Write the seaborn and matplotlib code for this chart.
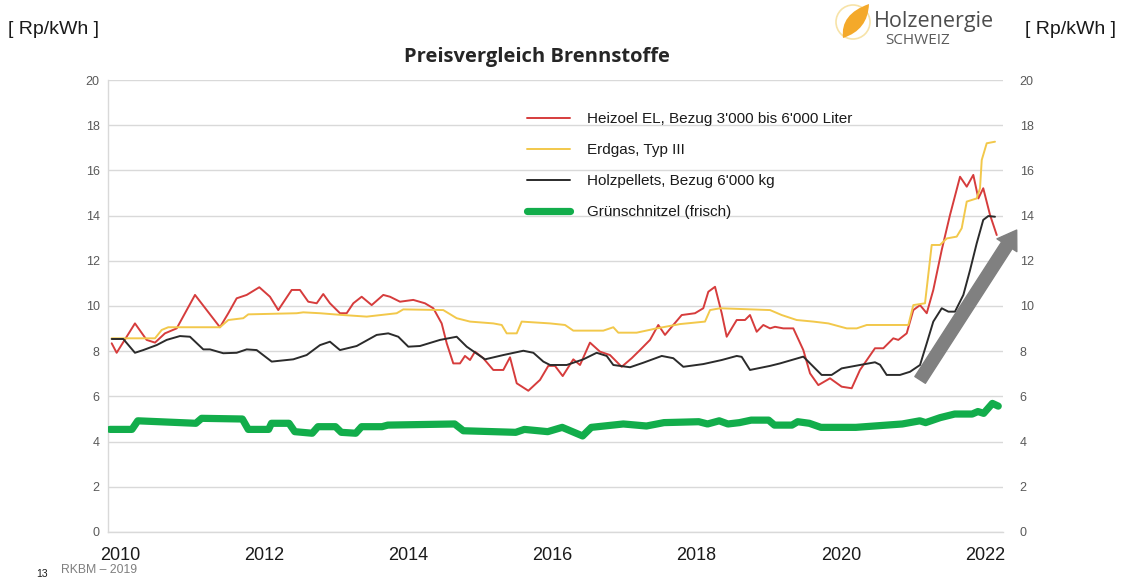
import matplotlib
matplotlib.use("Agg")
import matplotlib.pyplot as plt
import seaborn as sns
import pandas as pd
import numpy as np
from matplotlib.patches import PathPatch, Ellipse
from matplotlib.path import Path

# ---------------- data (decimal years, Rp/kWh) ----------------
heizoel_x = [2009.885, 2009.954, 2010.208, 2010.370, 2010.486, 2010.624, 2010.787, 2010.902,
             2011.041, 2011.203, 2011.387, 2011.503, 2011.619, 2011.758, 2011.933, 2012.081,
             2012.196, 2012.382, 2012.497, 2012.612, 2012.729, 2012.820, 2012.913, 2013.052,
             2013.145, 2013.237, 2013.353, 2013.492, 2013.653, 2013.746, 2013.885, 2014.069,
             2014.231, 2014.347, 2014.463, 2014.533, 2014.624, 2014.717, 2014.786, 2014.856,
             2014.925, 2015.040, 2015.179, 2015.318, 2015.411, 2015.504, 2015.665, 2015.827,
             2015.942, 2016.035, 2016.142, 2016.289, 2016.382, 2016.520, 2016.659, 2016.798,
             2016.960, 2017.099, 2017.214, 2017.353, 2017.468, 2017.561, 2017.676, 2017.793,
             2017.977, 2018.092, 2018.162, 2018.255, 2018.348, 2018.417, 2018.486, 2018.556,
             2018.671, 2018.740, 2018.833, 2018.925, 2019.018, 2019.087, 2019.202, 2019.341,
             2019.480, 2019.573, 2019.688, 2019.850, 2020.012, 2020.151, 2020.266, 2020.474,
             2020.590, 2020.728, 2020.798, 2020.914, 2021.006, 2021.099, 2021.192, 2021.283,
             2021.400, 2021.515, 2021.654, 2021.747, 2021.838, 2021.908, 2021.976, 2022.070,
             2022.163]
heizoel_y = [8.35, 7.93, 9.23, 8.50, 8.38, 8.79, 9.01, 9.68,
             10.49, 9.82, 9.06, 9.68, 10.34, 10.49, 10.83, 10.41,
             9.82, 10.71, 10.71, 10.19, 10.12, 10.53, 10.12, 9.68,
             9.68, 10.12, 10.41, 10.04, 10.49, 10.41, 10.19, 10.27,
             10.12, 9.90, 9.23, 8.35, 7.46, 7.46, 7.79, 7.61,
             7.98, 7.69, 7.17, 7.17, 7.73, 6.58, 6.25, 6.73,
             7.35, 7.35, 6.90, 7.64, 7.39, 8.38, 7.98, 7.83,
             7.31, 7.69, 8.05, 8.50, 9.16, 8.72, 9.16, 9.60,
             9.68, 9.90, 10.63, 10.85, 9.68, 8.64, 9.01, 9.38,
             9.38, 9.60, 8.86, 9.16, 9.01, 9.08, 9.01, 9.01,
             8.05, 7.02, 6.50, 6.80, 6.43, 6.36, 7.17, 8.13,
             8.13, 8.57, 8.50, 8.79, 9.82, 10.04, 9.68, 10.71,
             12.48, 14.03, 15.72, 15.28, 15.80, 14.76, 15.21, 14.03,
             13.14]

erdgas_x = [2009.885, 2010.486, 2010.579, 2010.670, 2011.387, 2011.503, 2011.711, 2011.780,
            2012.452, 2012.543, 2012.775, 2013.052, 2013.423, 2013.839, 2013.930, 2014.485,
            2014.671, 2014.856, 2015.179, 2015.296, 2015.365, 2015.504, 2015.573, 2015.966,
            2016.174, 2016.289, 2016.705, 2016.844, 2016.913, 2017.168, 2017.446, 2017.769,
            2018.116, 2018.186, 2018.324, 2019.018, 2019.180, 2019.388, 2019.619, 2019.827,
            2020.082, 2020.221, 2020.360, 2020.937, 2021.006, 2021.168, 2021.261, 2021.376,
            2021.470, 2021.608, 2021.677, 2021.747, 2021.885, 2021.931, 2021.955, 2022.024,
            2022.139]
erdgas_y = [8.57, 8.57, 8.94, 9.06, 9.06, 9.38, 9.46, 9.63,
            9.68, 9.72, 9.68, 9.61, 9.53, 9.68, 9.85, 9.82,
            9.46, 9.31, 9.23, 9.16, 8.79, 8.79, 9.31, 9.23,
            9.16, 8.91, 8.91, 9.06, 8.82, 8.82, 9.01, 9.20,
            9.31, 9.82, 9.90, 9.82, 9.60, 9.38, 9.31, 9.23,
            9.01, 9.01, 9.16, 9.16, 10.04, 10.12, 12.70, 12.70,
            12.99, 13.07, 13.44, 14.62, 14.76, 15.21, 16.46, 17.20,
            17.27]

pellets_x = [2009.885, 2010.046, 2010.208, 2010.323, 2010.509, 2010.648, 2010.832, 2010.971,
             2011.156, 2011.249, 2011.433, 2011.619, 2011.758, 2011.896, 2012.105, 2012.404,
             2012.590, 2012.775, 2012.913, 2013.052, 2013.284, 2013.561, 2013.722, 2013.861,
             2014.000, 2014.162, 2014.440, 2014.671, 2014.810, 2015.064, 2015.318, 2015.596,
             2015.735, 2015.873, 2015.966, 2016.198, 2016.428, 2016.613, 2016.752, 2016.844,
             2017.076, 2017.260, 2017.516, 2017.676, 2017.815, 2018.092, 2018.348, 2018.556,
             2018.625, 2018.740, 2019.018, 2019.157, 2019.480, 2019.596, 2019.734, 2019.873,
             2020.012, 2020.266, 2020.474, 2020.544, 2020.636, 2020.821, 2020.960, 2021.099,
             2021.192, 2021.283, 2021.400, 2021.492, 2021.584, 2021.700, 2021.793, 2021.885,
             2021.976, 2022.046, 2022.139]
pellets_y = [8.54, 8.54, 7.93, 8.05, 8.27, 8.50, 8.67, 8.64,
             8.08, 8.08, 7.91, 7.93, 8.08, 8.05, 7.54, 7.64,
             7.83, 8.27, 8.42, 8.05, 8.23, 8.72, 8.79, 8.64,
             8.20, 8.23, 8.50, 8.64, 8.20, 7.64, 7.83, 8.02,
             7.93, 7.54, 7.39, 7.39, 7.64, 7.93, 7.79, 7.39,
             7.29, 7.49, 7.79, 7.69, 7.31, 7.43, 7.61, 7.79,
             7.75, 7.17, 7.35, 7.46, 7.76, 7.39, 6.95, 6.95,
             7.24, 7.39, 7.51, 7.40, 6.95, 6.95, 7.09, 7.39,
             8.35, 9.31, 9.90, 9.75, 9.75, 10.49, 11.59, 12.77,
             13.81, 13.98, 13.95]

gruen_x = [2009.861, 2010.166, 2010.247, 2011.053, 2011.133, 2011.698, 2011.780, 2012.062,
           2012.102, 2012.345, 2012.425, 2012.667, 2012.747, 2012.990, 2013.070, 2013.271,
           2013.352, 2013.635, 2013.715, 2014.643, 2014.764, 2015.490, 2015.610, 2015.934,
           2016.135, 2016.418, 2016.539, 2016.983, 2017.304, 2017.547, 2018.030, 2018.152,
           2018.313, 2018.434, 2018.595, 2018.757, 2018.998, 2019.079, 2019.322, 2019.402,
           2019.563, 2019.724, 2020.208, 2020.853, 2021.096, 2021.177, 2021.378, 2021.580,
           2021.822, 2021.902, 2021.982, 2022.103, 2022.184]
gruen_y = [4.54, 4.54, 4.92, 4.81, 5.03, 5.00, 4.54, 4.54,
           4.81, 4.81, 4.44, 4.37, 4.66, 4.66, 4.41, 4.37,
           4.66, 4.66, 4.73, 4.78, 4.48, 4.41, 4.54, 4.44,
           4.63, 4.25, 4.63, 4.78, 4.69, 4.84, 4.88, 4.78,
           4.92, 4.78, 4.84, 4.95, 4.95, 4.73, 4.73, 4.88,
           4.81, 4.63, 4.63, 4.78, 4.92, 4.84, 5.06, 5.22,
           5.22, 5.33, 5.25, 5.69, 5.57]

series_names = ["Heizoel EL, Bezug 3'000 bis 6'000 Liter", "Erdgas, Typ III",
                "Holzpellets, Bezug 6'000 kg", "Grünschnitzel (frisch)"]
year_ticks = [2010, 2012, 2014, 2016, 2018, 2020, 2022]
y_ticks = [0, 2, 4, 6, 8, 10, 12, 14, 16, 18, 20]

# ---------------- styling ----------------
sns.set_theme(style="white")
plt.rcParams['font.family'] = ['Liberation Sans', 'DejaVu Sans']

W, H = 1122, 580
fig = plt.figure(figsize=(W / 100, H / 100), dpi=100)
fig.patch.set_facecolor("white")

def fx(px):
    return px / W

def fy(py):
    return 1 - py / H

ax_l, ax_r, ax_t, ax_b = 108, 1003, 80, 532
ax = fig.add_axes([fx(ax_l), fy(ax_b), fx(ax_r) - fx(ax_l), fy(ax_t) - fy(ax_b)])

colors = ["#d63c3c", "#f2c84b", "#2b2b2b", "#12ad4b"]
widths = [1.4, 1.4, 1.4, 5.2]
xs = [heizoel_x, erdgas_x, pellets_x, gruen_x]
ys = [heizoel_y, erdgas_y, pellets_y, gruen_y]

for name, x, y, c, lw in zip(series_names, xs, ys, colors, widths):
    df = pd.DataFrame({"Jahr": x, "Preis": y})
    sns.lineplot(data=df, x="Jahr", y="Preis", ax=ax, color=c, linewidth=lw,
                 label=name, estimator=None, sort=False, zorder=3)

ax.set_xlim(2009.834, 2022.25)
ax.set_ylim(0, 20)
ax.set_yticks(y_ticks)
ax.set_xticks(year_ticks)
ax.set_xticklabels([str(t) for t in year_ticks], fontsize=13, color="#1a1a1a")
ax.set_yticklabels([str(t) for t in y_ticks], fontsize=9, color="#595959")
ax.set_xlabel("")
ax.set_ylabel("")
ax.grid(axis="y", color="#d9d9d9", linewidth=1.0, zorder=0)
ax.grid(axis="x", visible=False)
for s in ["top", "right"]:
    ax.spines[s].set_visible(False)
ax.spines["left"].set_color("#d9d9d9")
ax.spines["bottom"].set_color("#d9d9d9")
ax.spines["left"].set_linewidth(1.0)
ax.spines["bottom"].set_linewidth(1.0)
ax.tick_params(axis="y", length=0, pad=6)
ax.tick_params(axis="x", length=0, pad=11)
ax.set_xticks(np.arange(2010, 2022.3, 0.25), minor=True)
ax.tick_params(axis="x", which="minor", length=3, color="#d9d9d9", direction="out")

ax2 = ax.twinx()
ax2.set_ylim(0, 20)
ax2.set_yticks(y_ticks)
ax2.set_yticklabels([str(t) for t in y_ticks], fontsize=9, color="#595959")
ax2.tick_params(axis="y", length=0, pad=12)
for s in ax2.spines.values():
    s.set_visible(False)
ax2.grid(False)

leg = ax.legend(loc="upper left", bbox_to_anchor=((527 - ax_l) / (ax_r - ax_l), 1 - (112 - ax_t) / (ax_b - ax_t)),
                frameon=False, fontsize=11, handlelength=2.8, handletextpad=1.15,
                labelspacing=1.12, borderpad=0, borderaxespad=0)
for t in leg.get_texts():
    t.set_color("#1a1a1a")

# arrow
ax.annotate("", xy=(2022.44, 13.36), xytext=(2021.10, 6.73), xycoords="data",
            arrowprops=dict(arrowstyle="simple,head_width=1.7,head_length=1.3,tail_width=0.9",
                            color="#808080", mutation_scale=10, shrinkA=0, shrinkB=0),
            annotation_clip=False, zorder=5)

# texts
fig.text(fx(537), fy(57), "Preisvergleich Brennstoffe", ha="center", va="center",
         fontsize=14.5, fontweight="bold", family=["Open Sans", "DejaVu Sans"], color="#262626")
fig.text(fx(8), fy(29), "[ Rp/kWh ]", ha="left", va="center", fontsize=14, color="#1a1a1a")
fig.text(fx(1025), fy(29), "[ Rp/kWh ]", ha="left", va="center", fontsize=14, color="#1a1a1a")
fig.text(fx(36), fy(574), "13", ha="left", va="center", fontsize=7.5, color="#1a1a1a")
fig.text(fx(61), fy(570), "RKBM – 2019", ha="left", va="center", fontsize=8.8, color="#7f7f7f")

# logo
fig.text(fx(874), fy(22), "Holzenergie", ha="left", va="center", fontsize=15.5,
         family=["Open Sans", "DejaVu Sans"], color="#4d4d4d")
fig.text(fx(885), fy(41), "SCHWEIZ", ha="left", va="center", fontsize=11,
         family=["Open Sans", "DejaVu Sans"], color="#5a5a5a")
ring = Ellipse((fx(853), fy(22)), width=34 / W, height=34 / H, transform=fig.transFigure,
               fill=False, edgecolor="#f7e3a8", linewidth=1.2)
fig.add_artist(ring)
pts = [(843, 38), (840, 14), (869, 4), (868, 30), (843, 38), (843, 38)]
leaf = Path([(fx(a), fy(b)) for a, b in pts],
            [Path.MOVETO, Path.CURVE3, Path.CURVE3, Path.CURVE3, Path.CURVE3, Path.CLOSEPOLY])
fig.add_artist(PathPatch(leaf, transform=fig.transFigure, facecolor="#f4a92a", edgecolor="none"))

fig.savefig("out.png", dpi=100, facecolor="white")
